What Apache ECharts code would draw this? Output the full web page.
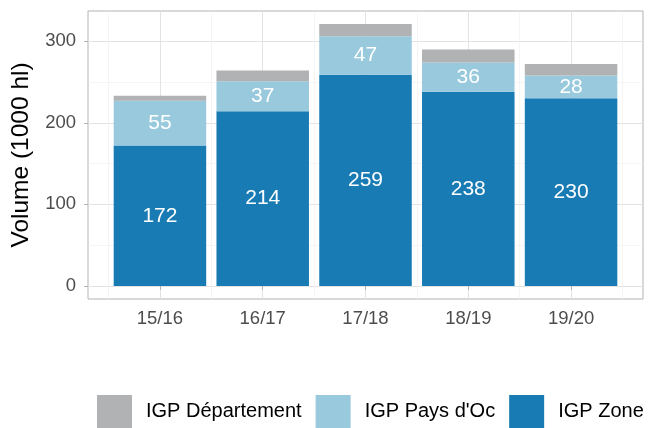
<!DOCTYPE html>
<html>
<head>
    <meta charset="utf-8">
    <script src="https://cdn.jsdelivr.net/npm/echarts@6/dist/echarts.min.js"></script>
</head>
<body style="margin:0">
    <div id="main" style="width: 649px; height: 428px"></div>
    <script type="text/javascript">
        var categories = ['15/16', '16/17', '17/18', '18/19', '19/20'];
        var zone = [172, 214, 259, 238, 230];
        var paysOc = [55, 37, 47, 36, 28];
        var departement = [6, 13, 15, 16, 14];
        var yTicks = [0, 100, 200, 300];
        var yMinor = [50, 150, 250];

        var font = 'Liberation Sans, Arial, sans-serif';
        var maxTotal = 0;
        for (var i = 0; i < categories.length; i++) {
            maxTotal = Math.max(maxTotal, zone[i] + paysOc[i] + departement[i]);
        }
        // ggplot-like 5% expansion on y, 0.7 band expansion on x
        var yMin = -0.05 * maxTotal, yMax = 1.05 * maxTotal;
        var xPos = categories.map(function (c, i) { return i + 1; });
        var xMinor = [0.5, 1.5, 2.5, 3.5, 4.5, 5.5];

        var panel = { left: 88, right: 643, top: 11, bottom: 299 };
        var band = (panel.right - panel.left) / 5.4;

        function barSeries(name, values, color, showLabel) {
            return {
                name: name,
                type: 'bar',
                stack: 'vol',
                xAxisIndex: 2,
                yAxisIndex: 2,
                barWidth: '90%',
                data: values,
                itemStyle: { color: color },
                label: {
                    show: showLabel,
                    position: 'inside',
                    color: '#ffffff',
                    fontSize: 21,
                    fontFamily: font
                }
            };
        }

        var myChart = echarts.init(document.getElementById('main'));
        var option = {
            animation: false,
            grid: [{
                left: panel.left, right: 649 - panel.right, top: panel.top, bottom: 428 - panel.bottom,
                show: true, borderColor: '#b3b3b3', borderWidth: 1
            }, {
                left: panel.left + 0.2 * band, right: 649 - panel.right + 0.2 * band,
                top: panel.top, bottom: 428 - panel.bottom
            }],
            xAxis: [{
                type: 'value', min: 0.3, max: 5.7, gridIndex: 0,
                axisLine: { show: false },
                axisTick: { show: true, length: 4, customValues: xPos, lineStyle: { color: '#b3b3b3' } },
                axisLabel: {
                    customValues: xPos, margin: 10, color: '#4d4d4d', fontSize: 18.5, fontFamily: font,
                    formatter: function (v) { return categories[Math.round(v) - 1]; }
                },
                splitLine: { show: true, lineStyle: { color: '#e3e3e3', width: 1 } }
            }, {
                type: 'value', min: 0.3, max: 5.7, position: 'top', gridIndex: 0,
                axisLine: { show: false },
                axisTick: { show: false, customValues: xMinor },
                axisLabel: { show: false, customValues: xMinor },
                splitLine: { show: true, lineStyle: { color: '#eeeeee', width: 0.6 } }
            }, {
                type: 'category', data: categories, gridIndex: 1, show: false
            }],
            yAxis: [{
                type: 'value', min: yMin, max: yMax, gridIndex: 0,
                name: 'Volume (1000 hl)',
                nameLocation: 'middle',
                nameGap: 53,
                nameTextStyle: { color: '#000000', fontSize: 24.5, fontFamily: font },
                axisLine: { show: false },
                axisTick: { show: true, length: 4, customValues: yTicks, lineStyle: { color: '#b3b3b3' } },
                axisLabel: { customValues: yTicks, margin: 12, color: '#4d4d4d', fontSize: 18.5, fontFamily: font },
                splitLine: { show: true, lineStyle: { color: '#e3e3e3', width: 1 } }
            }, {
                type: 'value', min: yMin, max: yMax, position: 'right', gridIndex: 0,
                axisLine: { show: false },
                axisTick: { show: false, customValues: yMinor },
                axisLabel: { show: false, customValues: yMinor },
                splitLine: { show: true, lineStyle: { color: '#eeeeee', width: 0.6 } }
            }, {
                type: 'value', min: yMin, max: yMax, gridIndex: 1, show: false
            }],
            legend: {
                left: 97, bottom: 0, padding: 0,
                itemWidth: 35, itemHeight: 33, itemGap: 14,
                icon: 'rect',
                data: ['IGP Département', 'IGP Pays d\'Oc', 'IGP Zone'],
                textStyle: { color: '#000000', fontSize: 20, fontFamily: font, padding: [0, 0, 0, 9] }
            },
            series: [
                barSeries('IGP Zone', zone, '#197bb4', true),
                barSeries('IGP Pays d\'Oc', paysOc, '#98c9dd', true),
                barSeries('IGP Département', departement, '#b0b2b3', false)
            ]
        };
        myChart.setOption(option);
    </script>
</body>
</html>
